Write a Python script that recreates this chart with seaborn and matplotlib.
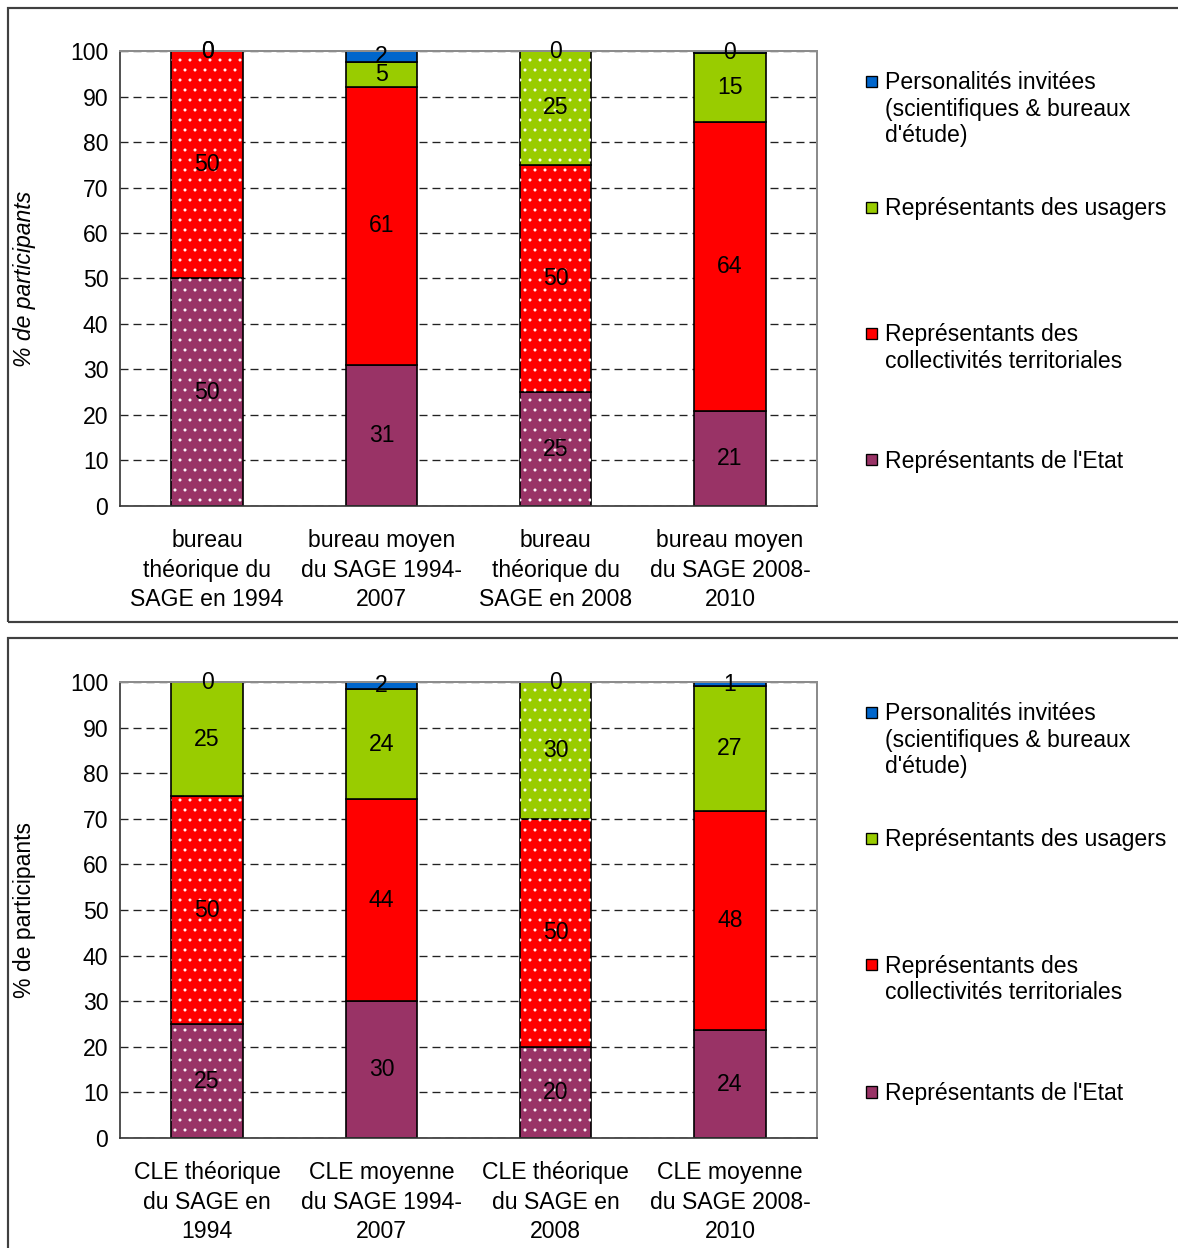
"""Composition des bureaux et des CLE du SAGE : barres empilées en % de participants."""

import matplotlib
matplotlib.use("Agg")
import matplotlib.pyplot as plt
import numpy as np
import seaborn as sns
from matplotlib.patches import Rectangle

SERIES = [
    "Représentants de l'Etat",
    "Représentants des\ncollectivités territoriales",
    "Représentants des usagers",
    "Personalités invitées\n(scientifiques & bureaux\nd'étude)",
]
COLORS = ["#993366", "#FF0000", "#99CC00", "#0066CC"]

BUREAU_LABELS = [
    "bureau\nthéorique du\nSAGE en 1994",
    "bureau moyen\ndu SAGE 1994-\n2007",
    "bureau\nthéorique du\nSAGE en 2008",
    "bureau moyen\ndu SAGE 2008-\n2010",
]
BUREAU_ETAT = [50, 31.0, 25, 20.9]
BUREAU_COLLECT = [50, 61.2, 50, 63.6]
BUREAU_USAGERS = [0, 5.4, 25, 15.0]
BUREAU_INVITES = [0, 2.4, 0, 0.4]
# segments pointillés (composition théorique)
BUREAU_DOTTED = [[1, 0, 1, 0], [1, 0, 1, 0], [1, 0, 1, 0], [0, 0, 0, 0]]

CLE_LABELS = [
    "CLE théorique\ndu SAGE en\n1994",
    "CLE moyenne\ndu SAGE 1994-\n2007",
    "CLE théorique\ndu SAGE en\n2008",
    "CLE moyenne\ndu SAGE 2008-\n2010",
]
CLE_ETAT = [25, 30.0, 20, 23.7]
CLE_COLLECT = [50, 44.3, 50, 48.0]
CLE_USAGERS = [25, 24.2, 30, 27.4]
CLE_INVITES = [0, 1.5, 0, 0.9]
CLE_DOTTED = [[1, 0, 1, 0], [1, 0, 1, 0], [0, 0, 1, 0], [0, 0, 0, 0]]

Y_TICKS = list(range(0, 101, 10))
LEGEND_Y = [0.101, 0.380, 0.657, 0.934]  # centre de la 1re ligne, fraction d'axe

FS = 13.8
DPI = 120


def draw_panel(ax, labels, series_values, dotted, italic_label):
    bottoms = np.zeros(len(labels))
    for k, vals in enumerate(series_values):
        sns.barplot(
            x=labels, y=vals, bottom=bottoms.copy(), color=COLORS[k],
            saturation=1, width=0.41, edgecolor="black", linewidth=1.0,
            errorbar=None, ax=ax,
        )
        cont = ax.containers[-1]
        for patch, dot in zip(cont.patches, dotted[k]):
            if dot and patch.get_height() > 0:
                ax.add_patch(Rectangle(
                    patch.get_xy(), patch.get_width(), patch.get_height(),
                    fill=False, hatch="..", edgecolor="white", linewidth=0,
                    zorder=1.2,
                ))
        ax.bar_label(cont, labels=[f"{v:.0f}" for v in vals],
                     label_type="center", fontsize=FS, color="black", zorder=4)
        bottoms += np.asarray(vals, dtype=float)

    ax.set_ylim(0, 100)
    ax.set_xlim(-0.5, len(labels) - 0.5)
    ax.set_yticks(Y_TICKS)
    ax.set_axisbelow(True)
    ax.yaxis.grid(True, color="#222222", linewidth=0.8, linestyle=(0, (6, 3.75)))
    ax.xaxis.grid(False)

    ax.set_xticks(range(len(labels)))
    ax.set_xticklabels(labels, fontsize=FS, linespacing=1.36)
    ax.set_xticks(np.arange(-0.5, len(labels)), minor=True)
    ax.tick_params(axis="x", which="major", length=0, pad=14)
    ax.tick_params(axis="x", which="minor", length=5, width=1, color="#333333",
                   direction="out")
    ax.tick_params(axis="y", labelsize=FS, length=4, width=1, color="#333333",
                   direction="out", pad=3)

    for side in ("left", "bottom"):
        ax.spines[side].set_color("#333333")
        ax.spines[side].set_linewidth(1.0)
    for side in ("top", "right"):
        ax.spines[side].set_visible(True)
        ax.spines[side].set_color("#8c8c8c")
        ax.spines[side].set_linewidth(1.2)

    ax.set_xlabel("")
    ax.set_ylabel("% de participants", fontsize=FS,
                  style="italic" if italic_label else "normal")
    ax.yaxis.set_label_coords(-0.12, 0.5)

    # légende façon tableur, à droite de la zone de tracé
    for k, yc in enumerate(LEGEND_Y):
        ax.add_patch(Rectangle(
            (1.0705, yc - 0.0121), 0.0158, 0.0242, transform=ax.transAxes,
            facecolor=COLORS[k], edgecolor="black", linewidth=0.8, clip_on=False,
        ))
        ax.annotate(SERIES[k], xy=(1.0975, yc), xycoords="axes fraction",
                    xytext=(0, 6), textcoords="offset points",
                    ha="left", va="top", fontsize=FS, annotation_clip=False)


def main() -> None:
    sns.set_style("white")
    plt.rcParams["font.family"] = ["Liberation Sans", "DejaVu Sans"]
    plt.rcParams["text.color"] = "black"
    plt.rcParams["axes.labelcolor"] = "black"
    plt.rcParams["xtick.color"] = "black"
    plt.rcParams["ytick.color"] = "black"
    plt.rcParams["hatch.linewidth"] = 0.6

    fig = plt.figure(figsize=(1178 / DPI, 1248 / DPI), dpi=DPI)

    # cadres des deux graphiques
    fig.add_artist(Rectangle((8 / 1178, 1 - 622 / 1248), 1.0, (622 - 8) / 1248,
                             transform=fig.transFigure, fill=False,
                             edgecolor="#404040", linewidth=1.3))
    fig.add_artist(Rectangle((8 / 1178, -0.02), 1.0, 0.02 + 1 - 638 / 1248,
                             transform=fig.transFigure, fill=False,
                             edgecolor="#404040", linewidth=1.3))

    ax1 = fig.add_axes([0.1019, 0.5946, 0.5917, 0.3645])
    ax2 = fig.add_axes([0.1019, 0.0881, 0.5917, 0.3654])

    draw_panel(ax1, BUREAU_LABELS,
               [BUREAU_ETAT, BUREAU_COLLECT, BUREAU_USAGERS, BUREAU_INVITES],
               BUREAU_DOTTED, italic_label=True)
    draw_panel(ax2, CLE_LABELS,
               [CLE_ETAT, CLE_COLLECT, CLE_USAGERS, CLE_INVITES],
               CLE_DOTTED, italic_label=False)

    fig.savefig("out.png", dpi=DPI)
    plt.close(fig)


if __name__ == "__main__":
    main()
